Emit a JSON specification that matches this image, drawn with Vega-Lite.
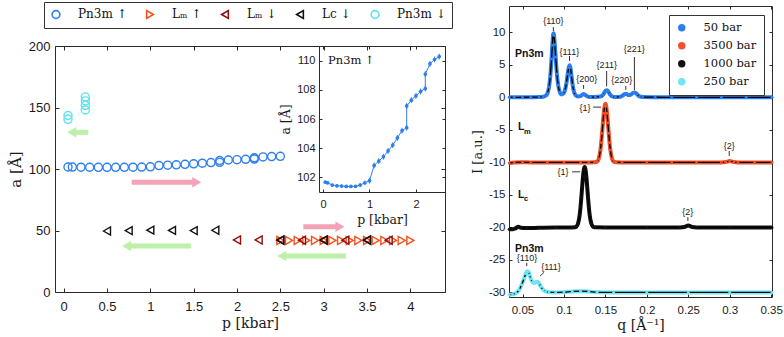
{
  "$schema": "https://vega.github.io/schema/vega-lite/v6.json",
  "width": 784,
  "height": 337,
  "autosize": {"type": "none"},
  "padding": 0,
  "background": "white",
  "config": {
    "view": {"stroke": null},
    "axis": {"grid": false, "domainColor": "#2b2b2b", "tickColor": "#2b2b2b", "labelColor": "#1a1a1a", "titleColor": "#1a1a1a", "labelFont": "Liberation Sans", "titleFont": "DejaVu Serif", "titleFontWeight": "normal", "labelFlush": false, "labelOverlap": false, "domainWidth": 1, "tickWidth": 1},
    "legend": {"labelColor": "#111111"}
  },
  "datasets": {
    "lattice": [
      {"series": "Lₘ ↑", "p": 2.5, "a": 41.9}, {"series": "Lₘ ↑", "p": 2.6, "a": 41.9}, {"series": "Lₘ ↑", "p": 2.7, "a": 41.9}, {"series": "Lₘ ↑", "p": 2.8, "a": 41.9},
      {"series": "Lₘ ↑", "p": 2.9, "a": 41.9}, {"series": "Lₘ ↑", "p": 3.0, "a": 41.9}, {"series": "Lₘ ↑", "p": 3.1, "a": 41.9}, {"series": "Lₘ ↑", "p": 3.2, "a": 41.9},
      {"series": "Lₘ ↑", "p": 3.3, "a": 41.9}, {"series": "Lₘ ↑", "p": 3.4, "a": 41.9}, {"series": "Lₘ ↑", "p": 3.5, "a": 41.9}, {"series": "Lₘ ↑", "p": 3.6, "a": 41.9},
      {"series": "Lₘ ↑", "p": 3.7, "a": 41.9}, {"series": "Lₘ ↑", "p": 3.8, "a": 41.9}, {"series": "Lₘ ↑", "p": 3.9, "a": 41.9}, {"series": "Lₘ ↑", "p": 4.0, "a": 41.9},
      {"series": "Lₘ ↓", "p": 2.0, "a": 42.3}, {"series": "Lₘ ↓", "p": 2.25, "a": 42.3}, {"series": "Lₘ ↓", "p": 2.5, "a": 42.1}, {"series": "Lₘ ↓", "p": 2.75, "a": 42.1},
      {"series": "Lₘ ↓", "p": 3.0, "a": 42.1}, {"series": "Lₘ ↓", "p": 3.25, "a": 42.1}, {"series": "Lₘ ↓", "p": 3.5, "a": 42.1}, {"series": "Lₘ ↓", "p": 3.75, "a": 42.1},
      {"series": "Lc ↓", "p": 0.5, "a": 49.6}, {"series": "Lc ↓", "p": 0.75, "a": 49.9}, {"series": "Lc ↓", "p": 1.0, "a": 50.3}, {"series": "Lc ↓", "p": 1.25, "a": 50.1},
      {"series": "Lc ↓", "p": 1.5, "a": 49.9}, {"series": "Lc ↓", "p": 1.75, "a": 50.2}, {"series": "Lc ↓", "p": 2.5, "a": 42.3}, {"series": "Lc ↓", "p": 3.0, "a": 42.3}, {"series": "Lc ↓", "p": 3.5, "a": 42.3},
      {"series": "Pn3m ↓", "p": 0.05, "a": 140.4}, {"series": "Pn3m ↓", "p": 0.05, "a": 143.5}, {"series": "Pn3m ↓", "p": 0.25, "a": 148.0}, {"series": "Pn3m ↓", "p": 0.25, "a": 151.8},
      {"series": "Pn3m ↓", "p": 0.25, "a": 155.4}, {"series": "Pn3m ↓", "p": 0.25, "a": 158.6},
      {"series": "Pn3m ↑", "p": 0.05, "a": 101.65}, {"series": "Pn3m ↑", "p": 0.1, "a": 101.6}, {"series": "Pn3m ↑", "p": 0.2, "a": 101.45}, {"series": "Pn3m ↑", "p": 0.3, "a": 101.4},
      {"series": "Pn3m ↑", "p": 0.4, "a": 101.38}, {"series": "Pn3m ↑", "p": 0.5, "a": 101.35}, {"series": "Pn3m ↑", "p": 0.6, "a": 101.35}, {"series": "Pn3m ↑", "p": 0.7, "a": 101.36},
      {"series": "Pn3m ↑", "p": 0.8, "a": 101.45}, {"series": "Pn3m ↑", "p": 0.9, "a": 101.6}, {"series": "Pn3m ↑", "p": 1.0, "a": 101.75}, {"series": "Pn3m ↑", "p": 1.1, "a": 102.8},
      {"series": "Pn3m ↑", "p": 1.2, "a": 103.1}, {"series": "Pn3m ↑", "p": 1.3, "a": 103.4}, {"series": "Pn3m ↑", "p": 1.4, "a": 103.8}, {"series": "Pn3m ↑", "p": 1.5, "a": 104.2},
      {"series": "Pn3m ↑", "p": 1.6, "a": 104.7}, {"series": "Pn3m ↑", "p": 1.7, "a": 105.2}, {"series": "Pn3m ↑", "p": 1.8, "a": 105.4}, {"series": "Pn3m ↑", "p": 1.8, "a": 106.9},
      {"series": "Pn3m ↑", "p": 1.9, "a": 107.3}, {"series": "Pn3m ↑", "p": 2.0, "a": 107.6}, {"series": "Pn3m ↑", "p": 2.1, "a": 107.9}, {"series": "Pn3m ↑", "p": 2.2, "a": 108.1},
      {"series": "Pn3m ↑", "p": 2.2, "a": 109.1}, {"series": "Pn3m ↑", "p": 2.3, "a": 109.8}, {"series": "Pn3m ↑", "p": 2.4, "a": 110.1}, {"series": "Pn3m ↑", "p": 2.5, "a": 110.3}
    ],
    "arrows": [
      {"dir": "right", "x1": 0.785, "x2": 1.5, "xh": 1.535, "a": 89.2},
      {"dir": "left", "x1": 0.285, "x2": 0.12, "xh": 0.093, "a": 129.8},
      {"dir": "left", "x1": 1.469, "x2": 0.75, "xh": 0.727, "a": 37.4},
      {"dir": "right", "x1": 2.765, "x2": 3.16, "xh": 3.188, "a": 53.1},
      {"dir": "left", "x1": 3.258, "x2": 2.54, "xh": 2.516, "a": 29.3}
    ],
    "inset": [
      {"k": 1, "p": 0.05, "a": 101.65, "lo": 101.55, "hi": 101.75}, {"k": 2, "p": 0.1, "a": 101.6, "lo": 101.5, "hi": 101.7},
      {"k": 3, "p": 0.2, "a": 101.45, "lo": 101.35, "hi": 101.55}, {"k": 4, "p": 0.3, "a": 101.4, "lo": 101.3, "hi": 101.5},
      {"k": 5, "p": 0.4, "a": 101.38, "lo": 101.28, "hi": 101.48}, {"k": 6, "p": 0.5, "a": 101.35, "lo": 101.25, "hi": 101.45},
      {"k": 7, "p": 0.6, "a": 101.35, "lo": 101.25, "hi": 101.45}, {"k": 8, "p": 0.7, "a": 101.36, "lo": 101.26, "hi": 101.46},
      {"k": 9, "p": 0.8, "a": 101.45, "lo": 101.33, "hi": 101.57}, {"k": 10, "p": 0.9, "a": 101.6, "lo": 101.45, "hi": 101.75},
      {"k": 11, "p": 1.0, "a": 101.75, "lo": 101.55, "hi": 101.95}, {"k": 12, "p": 1.1, "a": 102.8, "lo": 102.6, "hi": 103.0},
      {"k": 13, "p": 1.2, "a": 103.1, "lo": 102.9, "hi": 103.3}, {"k": 14, "p": 1.3, "a": 103.4, "lo": 103.2, "hi": 103.6},
      {"k": 15, "p": 1.4, "a": 103.8, "lo": 103.6, "hi": 104.0}, {"k": 16, "p": 1.5, "a": 104.2, "lo": 104.0, "hi": 104.4},
      {"k": 17, "p": 1.6, "a": 104.7, "lo": 104.5, "hi": 104.9}, {"k": 18, "p": 1.7, "a": 105.2, "lo": 105.0, "hi": 105.4},
      {"k": 19, "p": 1.8, "a": 105.4, "lo": 105.2, "hi": 105.6}, {"k": 20, "p": 1.8, "a": 106.9, "lo": 106.7, "hi": 107.1},
      {"k": 21, "p": 1.9, "a": 107.3, "lo": 107.1, "hi": 107.5}, {"k": 22, "p": 2.0, "a": 107.6, "lo": 107.4, "hi": 107.8},
      {"k": 23, "p": 2.1, "a": 107.9, "lo": 107.7, "hi": 108.1}, {"k": 24, "p": 2.2, "a": 108.1, "lo": 107.9, "hi": 108.3},
      {"k": 25, "p": 2.2, "a": 109.1, "lo": 108.9, "hi": 109.3}, {"k": 26, "p": 2.3, "a": 109.8, "lo": 109.6, "hi": 110.0},
      {"k": 27, "p": 2.4, "a": 110.1, "lo": 109.9, "hi": 110.3}, {"k": 28, "p": 2.5, "a": 110.3, "lo": 110.1, "hi": 110.5}
    ],
    "saxs": [
      {"series": "50 bar", "q": 0.034, "I": 0.02}, {"series": "50 bar", "q": 0.04, "I": 0.0}, {"series": "50 bar", "q": 0.05, "I": 0.02}, {"series": "50 bar", "q": 0.06, "I": 0.03},
      {"series": "50 bar", "q": 0.07, "I": 0.05}, {"series": "50 bar", "q": 0.075, "I": 0.1}, {"series": "50 bar", "q": 0.078, "I": 0.25}, {"series": "50 bar", "q": 0.08, "I": 0.6},
      {"series": "50 bar", "q": 0.082, "I": 1.6}, {"series": "50 bar", "q": 0.0835, "I": 3.2}, {"series": "50 bar", "q": 0.085, "I": 5.9}, {"series": "50 bar", "q": 0.086, "I": 8.0},
      {"series": "50 bar", "q": 0.087, "I": 9.7}, {"series": "50 bar", "q": 0.0875, "I": 9.85}, {"series": "50 bar", "q": 0.088, "I": 9.5}, {"series": "50 bar", "q": 0.089, "I": 8.1},
      {"series": "50 bar", "q": 0.09, "I": 6.2}, {"series": "50 bar", "q": 0.0915, "I": 3.6}, {"series": "50 bar", "q": 0.093, "I": 1.9}, {"series": "50 bar", "q": 0.095, "I": 0.8},
      {"series": "50 bar", "q": 0.097, "I": 0.45}, {"series": "50 bar", "q": 0.099, "I": 0.55}, {"series": "50 bar", "q": 0.101, "I": 1.0}, {"series": "50 bar", "q": 0.103, "I": 2.2},
      {"series": "50 bar", "q": 0.1045, "I": 3.6}, {"series": "50 bar", "q": 0.1058, "I": 4.6}, {"series": "50 bar", "q": 0.1068, "I": 4.95}, {"series": "50 bar", "q": 0.1078, "I": 4.6},
      {"series": "50 bar", "q": 0.109, "I": 3.4}, {"series": "50 bar", "q": 0.1105, "I": 1.9}, {"series": "50 bar", "q": 0.112, "I": 0.9}, {"series": "50 bar", "q": 0.114, "I": 0.35},
      {"series": "50 bar", "q": 0.117, "I": 0.15}, {"series": "50 bar", "q": 0.12, "I": 0.2}, {"series": "50 bar", "q": 0.122, "I": 0.4}, {"series": "50 bar", "q": 0.1237, "I": 0.5},
      {"series": "50 bar", "q": 0.1255, "I": 0.4}, {"series": "50 bar", "q": 0.128, "I": 0.15}, {"series": "50 bar", "q": 0.132, "I": 0.05}, {"series": "50 bar", "q": 0.138, "I": 0.05},
      {"series": "50 bar", "q": 0.144, "I": 0.12}, {"series": "50 bar", "q": 0.147, "I": 0.35}, {"series": "50 bar", "q": 0.149, "I": 0.8}, {"series": "50 bar", "q": 0.1505, "I": 1.05},
      {"series": "50 bar", "q": 0.152, "I": 1.1}, {"series": "50 bar", "q": 0.1535, "I": 0.9}, {"series": "50 bar", "q": 0.1555, "I": 0.45}, {"series": "50 bar", "q": 0.158, "I": 0.15},
      {"series": "50 bar", "q": 0.162, "I": 0.05}, {"series": "50 bar", "q": 0.168, "I": 0.1}, {"series": "50 bar", "q": 0.171, "I": 0.3}, {"series": "50 bar", "q": 0.1735, "I": 0.5},
      {"series": "50 bar", "q": 0.1755, "I": 0.5}, {"series": "50 bar", "q": 0.178, "I": 0.35}, {"series": "50 bar", "q": 0.181, "I": 0.45}, {"series": "50 bar", "q": 0.1835, "I": 0.7},
      {"series": "50 bar", "q": 0.1855, "I": 0.75}, {"series": "50 bar", "q": 0.188, "I": 0.5}, {"series": "50 bar", "q": 0.191, "I": 0.15}, {"series": "50 bar", "q": 0.195, "I": 0.05},
      {"series": "50 bar", "q": 0.21, "I": 0.02}, {"series": "50 bar", "q": 0.23, "I": 0.0}, {"series": "50 bar", "q": 0.26, "I": 0.0}, {"series": "50 bar", "q": 0.29, "I": 0.0},
      {"series": "50 bar", "q": 0.32, "I": 0.0}, {"series": "50 bar", "q": 0.351, "I": 0.0},
      {"series": "3500 bar", "q": 0.034, "I": -10.1}, {"series": "3500 bar", "q": 0.04, "I": -10.0}, {"series": "3500 bar", "q": 0.05, "I": -9.97}, {"series": "3500 bar", "q": 0.06, "I": -10.0},
      {"series": "3500 bar", "q": 0.08, "I": -10.0}, {"series": "3500 bar", "q": 0.1, "I": -10.0}, {"series": "3500 bar", "q": 0.12, "I": -10.0}, {"series": "3500 bar", "q": 0.13, "I": -10.0},
      {"series": "3500 bar", "q": 0.137, "I": -9.98}, {"series": "3500 bar", "q": 0.14, "I": -9.88}, {"series": "3500 bar", "q": 0.142, "I": -9.43}, {"series": "3500 bar", "q": 0.144, "I": -8.1},
      {"series": "3500 bar", "q": 0.145, "I": -6.95}, {"series": "3500 bar", "q": 0.146, "I": -5.5}, {"series": "3500 bar", "q": 0.147, "I": -3.9}, {"series": "3500 bar", "q": 0.148, "I": -2.43},
      {"series": "3500 bar", "q": 0.149, "I": -1.38}, {"series": "3500 bar", "q": 0.15, "I": -1.0}, {"series": "3500 bar", "q": 0.151, "I": -1.38}, {"series": "3500 bar", "q": 0.152, "I": -2.43},
      {"series": "3500 bar", "q": 0.153, "I": -3.9}, {"series": "3500 bar", "q": 0.154, "I": -5.5}, {"series": "3500 bar", "q": 0.155, "I": -6.95}, {"series": "3500 bar", "q": 0.156, "I": -8.1},
      {"series": "3500 bar", "q": 0.158, "I": -9.43}, {"series": "3500 bar", "q": 0.16, "I": -9.88}, {"series": "3500 bar", "q": 0.163, "I": -9.98}, {"series": "3500 bar", "q": 0.17, "I": -10.0},
      {"series": "3500 bar", "q": 0.2, "I": -10.0}, {"series": "3500 bar", "q": 0.23, "I": -10.0}, {"series": "3500 bar", "q": 0.26, "I": -10.0}, {"series": "3500 bar", "q": 0.29, "I": -10.0},
      {"series": "3500 bar", "q": 0.295, "I": -9.95}, {"series": "3500 bar", "q": 0.3, "I": -9.8}, {"series": "3500 bar", "q": 0.305, "I": -9.95}, {"series": "3500 bar", "q": 0.31, "I": -10.0},
      {"series": "3500 bar", "q": 0.33, "I": -10.0}, {"series": "3500 bar", "q": 0.351, "I": -10.0},
      {"series": "1000 bar", "q": 0.034, "I": -20.3}, {"series": "1000 bar", "q": 0.038, "I": -20.3}, {"series": "1000 bar", "q": 0.042, "I": -20.1}, {"series": "1000 bar", "q": 0.045, "I": -19.9},
      {"series": "1000 bar", "q": 0.048, "I": -20.05}, {"series": "1000 bar", "q": 0.055, "I": -20.1}, {"series": "1000 bar", "q": 0.07, "I": -20.05}, {"series": "1000 bar", "q": 0.09, "I": -20.0},
      {"series": "1000 bar", "q": 0.11, "I": -20.0}, {"series": "1000 bar", "q": 0.113, "I": -19.98}, {"series": "1000 bar", "q": 0.115, "I": -19.88}, {"series": "1000 bar", "q": 0.117, "I": -19.41},
      {"series": "1000 bar", "q": 0.119, "I": -18.04}, {"series": "1000 bar", "q": 0.12, "I": -16.85}, {"series": "1000 bar", "q": 0.121, "I": -15.35}, {"series": "1000 bar", "q": 0.122, "I": -13.7},
      {"series": "1000 bar", "q": 0.123, "I": -12.18}, {"series": "1000 bar", "q": 0.124, "I": -11.09}, {"series": "1000 bar", "q": 0.125, "I": -10.7}, {"series": "1000 bar", "q": 0.126, "I": -11.09},
      {"series": "1000 bar", "q": 0.127, "I": -12.18}, {"series": "1000 bar", "q": 0.128, "I": -13.7}, {"series": "1000 bar", "q": 0.129, "I": -15.35}, {"series": "1000 bar", "q": 0.13, "I": -16.85},
      {"series": "1000 bar", "q": 0.131, "I": -18.04}, {"series": "1000 bar", "q": 0.133, "I": -19.41}, {"series": "1000 bar", "q": 0.135, "I": -19.88}, {"series": "1000 bar", "q": 0.137, "I": -19.98},
      {"series": "1000 bar", "q": 0.15, "I": -20.0}, {"series": "1000 bar", "q": 0.2, "I": -20.0}, {"series": "1000 bar", "q": 0.24, "I": -20.0}, {"series": "1000 bar", "q": 0.245, "I": -19.95},
      {"series": "1000 bar", "q": 0.25, "I": -19.7}, {"series": "1000 bar", "q": 0.255, "I": -19.95}, {"series": "1000 bar", "q": 0.26, "I": -20.0}, {"series": "1000 bar", "q": 0.3, "I": -20.0},
      {"series": "1000 bar", "q": 0.351, "I": -20.0},
      {"series": "250 bar", "q": 0.034, "I": -30.35}, {"series": "250 bar", "q": 0.038, "I": -30.3}, {"series": "250 bar", "q": 0.042, "I": -30.1}, {"series": "250 bar", "q": 0.046, "I": -29.6},
      {"series": "250 bar", "q": 0.049, "I": -28.8}, {"series": "250 bar", "q": 0.052, "I": -27.8}, {"series": "250 bar", "q": 0.054, "I": -27.1}, {"series": "250 bar", "q": 0.0555, "I": -26.75},
      {"series": "250 bar", "q": 0.057, "I": -26.8}, {"series": "250 bar", "q": 0.0585, "I": -27.3}, {"series": "250 bar", "q": 0.06, "I": -27.9}, {"series": "250 bar", "q": 0.062, "I": -28.4},
      {"series": "250 bar", "q": 0.064, "I": -28.55}, {"series": "250 bar", "q": 0.066, "I": -28.4}, {"series": "250 bar", "q": 0.068, "I": -28.35}, {"series": "250 bar", "q": 0.07, "I": -28.6},
      {"series": "250 bar", "q": 0.072, "I": -29.1}, {"series": "250 bar", "q": 0.075, "I": -29.6}, {"series": "250 bar", "q": 0.078, "I": -29.85}, {"series": "250 bar", "q": 0.082, "I": -29.95},
      {"series": "250 bar", "q": 0.09, "I": -30.0}, {"series": "250 bar", "q": 0.1, "I": -29.95}, {"series": "250 bar", "q": 0.11, "I": -29.85}, {"series": "250 bar", "q": 0.12, "I": -29.8},
      {"series": "250 bar", "q": 0.13, "I": -29.85}, {"series": "250 bar", "q": 0.14, "I": -29.98}, {"series": "250 bar", "q": 0.16, "I": -30.0}, {"series": "250 bar", "q": 0.2, "I": -30.0},
      {"series": "250 bar", "q": 0.25, "I": -30.0}, {"series": "250 bar", "q": 0.3, "I": -30.0}, {"series": "250 bar", "q": 0.351, "I": -30.0}
    ],
    "ann": [
      {"q": 0.041, "I": 6.67, "t": "Pn3m", "kind": "bold"},
      {"q": 0.0446, "I": -4.56, "t": "L", "kind": "bold"},
      {"q": 0.0518, "I": -5.3, "t": "m", "kind": "sub"},
      {"q": 0.0446, "I": -15.03, "t": "L", "kind": "bold"},
      {"q": 0.0518, "I": -15.7, "t": "c", "kind": "sub"},
      {"q": 0.041, "I": -23.33, "t": "Pn3m", "kind": "bold"},
      {"q": 0.0554, "I": -24.75, "t": "{110}", "kind": "peak"},
      {"q": 0.0844, "I": -26.06, "t": "{111}", "kind": "peak"},
      {"q": 0.0872, "I": 11.79, "t": "{110}", "kind": "peak"},
      {"q": 0.1065, "I": 7.02, "t": "{111}", "kind": "peak"},
      {"q": 0.1275, "I": 2.77, "t": "{200}", "kind": "peak"},
      {"q": 0.1517, "I": 4.97, "t": "{211}", "kind": "peak"},
      {"q": 0.1698, "I": 2.66, "t": "{220}", "kind": "peak"},
      {"q": 0.1847, "I": 7.39, "t": "{221}", "kind": "peak"},
      {"q": 0.1255, "I": -1.64, "t": "{1}", "kind": "peak"},
      {"q": 0.2994, "I": -7.44, "t": "{2}", "kind": "peak"},
      {"q": 0.0989, "I": -11.49, "t": "{1}", "kind": "peak"},
      {"q": 0.2495, "I": -17.6, "t": "{2}", "kind": "peak"}
    ],
    "annTicks": [
      {"q": 0.0551, "q2": 0.0551, "I": -25.45, "I2": -25.95},
      {"q": 0.0711, "q2": 0.076, "I": -27.5, "I2": -26.9},
      {"q": 0.0872, "q2": 0.0872, "I": 10.8, "I2": 10.2},
      {"q": 0.1067, "q2": 0.1067, "I": 6.35, "I2": 5.6},
      {"q": 0.1237, "q2": 0.1237, "I": 1.9, "I2": 1.3},
      {"q": 0.1515, "q2": 0.1515, "I": 4.05, "I2": 1.7},
      {"q": 0.1746, "q2": 0.1746, "I": 1.75, "I2": 1.15},
      {"q": 0.185, "q2": 0.185, "I": 6.2, "I2": 1.1},
      {"q": 0.1352, "q2": 0.1448, "I": -1.5, "I2": -1.5},
      {"q": 0.2994, "q2": 0.2994, "I": -8.25, "I2": -9.0},
      {"q": 0.1098, "q2": 0.1195, "I": -11.45, "I2": -11.45},
      {"q": 0.2495, "q2": 0.2495, "I": -18.4, "I2": -19.0}
    ]
  },
  "resolve": {
    "scale": {"x": "independent", "y": "independent", "color": "independent", "shape": "independent", "stroke": "independent"},
    "axis": {"x": "independent", "y": "independent"},
    "legend": {"color": "independent", "shape": "independent", "stroke": "independent"}
  },
  "layer": [
    {
      "layer": [
        {
          "data": {"name": "lattice"},
          "mark": {"type": "point", "filled": false, "size": 65, "strokeWidth": 1.4, "opacity": 1},
          "encoding": {
            "x": {"field": "p", "type": "quantitative", "scale": {"domain": [-0.1, 4.4], "range": [55, 445], "nice": false, "zero": false}, "axis": null},
            "y": {"field": "a", "type": "quantitative", "scale": {"domain": [0, 200], "range": [292, 46], "nice": false, "zero": false}, "axis": null},
            "color": {"field": "series", "type": "nominal",
                      "scale": {"domain": ["Pn3m ↑", "Lₘ ↑", "Lₘ ↓", "Lc ↓", "Pn3m ↓"], "range": ["#2d7ff0", "#f4511e", "#8b1010", "#111111", "#5fe1f2"]},
                      "legend": {"orient": "none", "legendX": 44, "legendY": 2, "direction": "horizontal", "title": null, "labelFont": "DejaVu Serif", "labelFontSize": 12, "symbolSize": 60, "symbolStrokeWidth": 1.6, "labelOffset": 16, "columnPadding": 16, "padding": 6, "strokeColor": "#333333", "fillColor": "white"}},
            "shape": {"field": "series", "type": "nominal",
                      "scale": {"domain": ["Pn3m ↑", "Lₘ ↑", "Lₘ ↓", "Lc ↓", "Pn3m ↓"], "range": ["circle", "triangle-right", "triangle-left", "triangle-left", "circle"]},
                      "legend": {"orient": "none", "legendX": 44, "legendY": 2, "direction": "horizontal", "title": null, "labelFont": "DejaVu Serif", "labelFontSize": 12, "symbolSize": 60, "symbolStrokeWidth": 1.6, "labelOffset": 16, "columnPadding": 16, "padding": 6, "strokeColor": "#333333", "fillColor": "white"}}
          }
        },
        {
          "data": {"name": "arrows"},
          "transform": [{"filter": "datum.dir === 'right'"}],
          "mark": {"type": "rule", "color": "#f3a3b5", "strokeWidth": 5},
          "encoding": {"x": {"field": "x1", "type": "quantitative", "axis": null}, "x2": {"field": "x2"}, "y": {"field": "a", "type": "quantitative", "axis": null}}
        },
        {
          "data": {"name": "arrows"},
          "transform": [{"filter": "datum.dir === 'left'"}],
          "mark": {"type": "rule", "color": "#bdf0a8", "strokeWidth": 5},
          "encoding": {"x": {"field": "x1", "type": "quantitative", "axis": null}, "x2": {"field": "x2"}, "y": {"field": "a", "type": "quantitative", "axis": null}}
        },
        {
          "data": {"name": "arrows"},
          "transform": [{"filter": "datum.dir === 'right'"}],
          "mark": {"type": "point", "shape": "triangle-right", "filled": true, "size": 110, "color": "#f3a3b5", "opacity": 1},
          "encoding": {"x": {"field": "xh", "type": "quantitative", "axis": null}, "y": {"field": "a", "type": "quantitative", "axis": null}}
        },
        {
          "data": {"name": "arrows"},
          "transform": [{"filter": "datum.dir === 'left'"}],
          "mark": {"type": "point", "shape": "triangle-left", "filled": true, "size": 110, "color": "#bdf0a8", "opacity": 1},
          "encoding": {"x": {"field": "xh", "type": "quantitative", "axis": null}, "y": {"field": "a", "type": "quantitative", "axis": null}}
        }
      ]
    },
    {
      "data": {"values": [{"vx": 1, "vy": 100}]},
      "mark": {"type": "point", "opacity": 0},
      "encoding": {
        "x": {"field": "vx", "type": "quantitative", "scale": {"domain": [-0.1, 4.4], "range": [55, 445], "nice": false, "zero": false},
              "axis": {"orient": "bottom", "offset": -45, "values": [0, 0.5, 1, 1.5, 2, 2.5, 3, 3.5, 4], "format": "~g", "title": "p [kbar]", "labelFontSize": 13, "labelPadding": 12, "titleFontSize": 14, "titlePadding": 3, "tickSize": -4}},
        "y": {"field": "vy", "type": "quantitative", "scale": {"domain": [0, 200], "range": [292, 46], "nice": false, "zero": false},
              "axis": {"orient": "left", "offset": -55, "values": [0, 50, 100, 150, 200], "title": "a [Å]", "labelFontSize": 13, "labelPadding": 9, "titleFontSize": 15, "titlePadding": 5, "tickSize": -4}}
      }
    },
    {
      "data": {"values": [{"vx": 1, "vy": 100}]},
      "mark": {"type": "point", "opacity": 0},
      "encoding": {
        "x": {"field": "vx", "type": "quantitative", "scale": {"domain": [-0.1, 4.4], "range": [55, 445], "nice": false, "zero": false},
              "axis": {"orient": "top", "offset": -46, "values": [0, 0.5, 1, 1.5, 2, 2.5, 3, 3.5, 4], "labels": false, "title": null, "tickSize": -4}},
        "y": {"field": "vy", "type": "quantitative", "scale": {"domain": [0, 200], "range": [292, 46], "nice": false, "zero": false},
              "axis": {"orient": "right", "offset": -339, "values": [0, 50, 100, 150, 200], "labels": false, "title": null, "tickSize": -4}}
      }
    },
    {
      "layer": [
        {
          "data": {"name": "inset"},
          "mark": {"type": "rule", "color": "#2d7ff0", "strokeWidth": 1},
          "encoding": {
            "x": {"field": "p", "type": "quantitative", "scale": {"domain": [-0.086, 2.624], "range": [319, 445], "nice": false, "zero": false}, "axis": null},
            "y": {"field": "lo", "type": "quantitative", "scale": {"domain": [100.97, 111.03], "range": [192, 46], "nice": false, "zero": false}, "axis": null},
            "y2": {"field": "hi"}
          }
        },
        {
          "data": {"name": "inset"},
          "mark": {"type": "line", "color": "#2d7ff0", "strokeWidth": 1},
          "encoding": {"x": {"field": "p", "type": "quantitative", "axis": null}, "y": {"field": "a", "type": "quantitative", "axis": null}, "order": {"field": "k", "type": "quantitative"}}
        },
        {
          "data": {"name": "inset"},
          "mark": {"type": "point", "filled": true, "size": 14, "color": "#2d7ff0", "opacity": 1},
          "encoding": {"x": {"field": "p", "type": "quantitative", "axis": null}, "y": {"field": "a", "type": "quantitative", "axis": null}}
        },
        {
          "data": {"values": [{"p": 0.108, "a": 110.0, "t": "Pn3m ↑"}]},
          "mark": {"type": "text", "align": "left", "baseline": "middle", "font": "DejaVu Serif", "fontSize": 11.5, "color": "#111111"},
          "encoding": {"x": {"field": "p", "type": "quantitative", "axis": null}, "y": {"field": "a", "type": "quantitative", "axis": null}, "text": {"field": "t"}}
        }
      ]
    },
    {
      "data": {"values": [{"vx": 1, "vy": 105}]},
      "mark": {"type": "point", "opacity": 0},
      "encoding": {
        "x": {"field": "vx", "type": "quantitative", "scale": {"domain": [-0.086, 2.624], "range": [319, 445], "nice": false, "zero": false},
              "axis": {"orient": "bottom", "offset": -145, "values": [0, 1, 2], "title": "p [kbar]", "labelFontSize": 11, "labelPadding": 9, "titleFontSize": 12.5, "titlePadding": 4, "tickSize": -3}},
        "y": {"field": "vy", "type": "quantitative", "scale": {"domain": [100.97, 111.03], "range": [192, 46], "nice": false, "zero": false},
              "axis": {"orient": "left", "offset": -319, "values": [102, 104, 106, 108, 110], "title": "a [Å]", "labelFontSize": 11, "labelPadding": 7, "titleFontSize": 12.5, "titlePadding": 4, "tickSize": -3}}
      }
    },
    {
      "data": {"values": [{"vx": 1, "vy": 105}]},
      "mark": {"type": "point", "opacity": 0},
      "encoding": {
        "x": {"field": "vx", "type": "quantitative", "scale": {"domain": [-0.086, 2.624], "range": [319, 445], "nice": false, "zero": false},
              "axis": {"orient": "top", "offset": -46, "values": [0, 1, 2], "labels": false, "title": null, "tickSize": -3}},
        "y": {"field": "vy", "type": "quantitative", "scale": {"domain": [100.97, 111.03], "range": [192, 46], "nice": false, "zero": false},
              "axis": {"orient": "right", "offset": -339, "values": [102, 104, 106, 108, 110], "labels": false, "title": null, "tickSize": -3}}
      }
    },
    {
      "layer": [
        {
          "data": {"name": "saxs"},
          "mark": {"type": "line", "strokeWidth": 4, "interpolate": "monotone"},
          "encoding": {
            "x": {"field": "q", "type": "quantitative", "scale": {"domain": [0.0337, 0.351], "range": [509, 772], "nice": false, "zero": false}, "axis": null},
            "y": {"field": "I", "type": "quantitative", "scale": {"domain": [-30.7, 14.05], "range": [297, 6], "nice": false, "zero": false}, "axis": null},
            "stroke": {"field": "series", "type": "nominal", "scale": {"domain": ["3500 bar", "50 bar", "1000 bar", "250 bar"], "range": ["#f0502a", "#2d7ff0", "#111111", "#6fe6f5"]}, "legend": null}
          }
        },
        {
          "data": {"name": "saxs"},
          "mark": {"type": "line", "color": "#000000", "strokeWidth": 1.3, "interpolate": "monotone"},
          "encoding": {"x": {"field": "q", "type": "quantitative", "axis": null}, "y": {"field": "I", "type": "quantitative", "axis": null}, "detail": {"field": "series", "type": "nominal"}}
        },
        {
          "data": {"name": "saxs"},
          "mark": {"type": "point", "filled": true, "size": 9, "opacity": 1},
          "encoding": {
            "x": {"field": "q", "type": "quantitative", "axis": null},
            "y": {"field": "I", "type": "quantitative", "axis": null},
            "color": {"field": "series", "type": "nominal", "scale": {"domain": ["50 bar", "3500 bar", "1000 bar", "250 bar"], "range": ["#2d7ff0", "#f0502a", "#111111", "#6fe6f5"]},
                      "legend": {"orient": "none", "legendX": 669, "legendY": 15, "title": null, "labelFont": "DejaVu Serif", "labelFontSize": 11.5, "symbolSize": 55, "symbolType": "circle", "labelOffset": 16, "rowPadding": 5, "padding": 7, "strokeColor": "#333333", "fillColor": "white"}}
          }
        },
        {
          "data": {"name": "annTicks"},
          "mark": {"type": "rule", "color": "#333333", "strokeWidth": 1},
          "encoding": {"x": {"field": "q", "type": "quantitative", "axis": null}, "x2": {"field": "q2"}, "y": {"field": "I", "type": "quantitative", "axis": null}, "y2": {"field": "I2"}}
        },
        {
          "data": {"name": "ann"},
          "transform": [{"filter": "datum.kind === 'bold'"}],
          "mark": {"type": "text", "align": "left", "baseline": "middle", "font": "Liberation Sans", "fontWeight": "bold", "fontSize": 10.5, "color": "#111111"},
          "encoding": {"x": {"field": "q", "type": "quantitative", "axis": null}, "y": {"field": "I", "type": "quantitative", "axis": null}, "text": {"field": "t"}}
        },
        {
          "data": {"name": "ann"},
          "transform": [{"filter": "datum.kind === 'sub'"}],
          "mark": {"type": "text", "align": "left", "baseline": "middle", "font": "Liberation Sans", "fontWeight": "bold", "fontSize": 7.5, "color": "#111111"},
          "encoding": {"x": {"field": "q", "type": "quantitative", "axis": null}, "y": {"field": "I", "type": "quantitative", "axis": null}, "text": {"field": "t"}}
        },
        {
          "data": {"name": "ann"},
          "transform": [{"filter": "datum.kind === 'peak'"}],
          "mark": {"type": "text", "align": "center", "baseline": "middle", "font": "Liberation Sans", "fontSize": 9, "color": "#222222"},
          "encoding": {"x": {"field": "q", "type": "quantitative", "axis": null}, "y": {"field": "I", "type": "quantitative", "axis": null}, "text": {"field": "t"}}
        }
      ]
    },
    {
      "data": {"values": [{"vx": 0.2, "vy": 0}]},
      "mark": {"type": "point", "opacity": 0},
      "encoding": {
        "x": {"field": "vx", "type": "quantitative", "scale": {"domain": [0.0337, 0.351], "range": [509, 772], "nice": false, "zero": false},
              "axis": {"orient": "bottom", "offset": -40, "values": [0.05, 0.1, 0.15, 0.2, 0.25, 0.3, 0.35], "format": "~g", "title": "q [Å⁻¹]", "labelFontSize": 11.5, "labelPadding": 10, "titleFontSize": 14, "titlePadding": 3, "tickSize": -3}},
        "y": {"field": "vy", "type": "quantitative", "scale": {"domain": [-30.7, 14.05], "range": [297, 6], "nice": false, "zero": false},
              "axis": {"orient": "left", "offset": -509, "values": [-30, -25, -20, -15, -10, -5, 0, 5, 10], "labelExpr": "replace(datum.label, '−', '-')", "title": "I [a.u.]", "labelFontSize": 11.5, "labelPadding": 7, "titleFontSize": 13, "titlePadding": 4, "tickSize": -3}}
      }
    },
    {
      "data": {"values": [{"vx": 0.2, "vy": 0}]},
      "mark": {"type": "point", "opacity": 0},
      "encoding": {
        "x": {"field": "vx", "type": "quantitative", "scale": {"domain": [0.0337, 0.351], "range": [509, 772], "nice": false, "zero": false},
              "axis": {"orient": "top", "offset": -6, "values": [0.05, 0.1, 0.15, 0.2, 0.25, 0.3, 0.35], "labels": false, "title": null, "tickSize": -3}},
        "y": {"field": "vy", "type": "quantitative", "scale": {"domain": [-30.7, 14.05], "range": [297, 6], "nice": false, "zero": false},
              "axis": {"orient": "right", "offset": -12, "values": [-30, -25, -20, -15, -10, -5, 0, 5, 10], "labels": false, "title": null, "tickSize": -3}}
      }
    }
  ]
}
